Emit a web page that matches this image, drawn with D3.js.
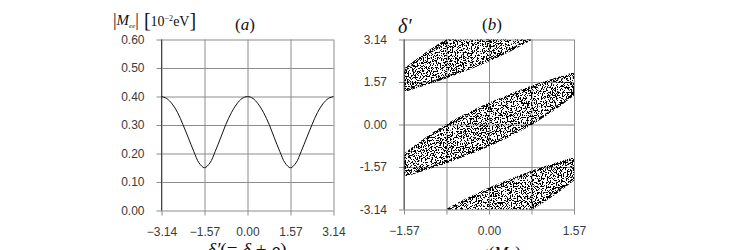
<!DOCTYPE html>
<html>
<head>
<meta charset="utf-8">
<script src="https://cdn.jsdelivr.net/npm/d3@7"></script>
<style>
  body { margin: 0; background: #fff; }
  .tick text { font-family: "Liberation Sans", Arial, sans-serif; font-size: 12px; fill: #3a3a3a; }
  .serif { font-family: "Liberation Serif", "Times New Roman", serif; fill: #111; }
</style>
</head>
<body>
<script>
// panel (a): |Mee| against delta'
const deltaA = [-3.14, -2.95, -2.75, -2.55, -2.36, -2.16, -1.96, -1.77, -1.57, -1.37, -1.18,
  -0.98, -0.79, -0.59, -0.39, -0.20, 0.00, 0.20, 0.39, 0.59, 0.79, 0.98, 1.18, 1.37, 1.57,
  1.77, 1.96, 2.16, 2.36, 2.55, 2.75, 2.95, 3.14]
const meeA = [0.400, 0.393, 0.374, 0.343, 0.302, 0.255, 0.207, 0.167, 0.150, 0.167, 0.207,
  0.255, 0.302, 0.343, 0.374, 0.393, 0.400, 0.393, 0.374, 0.343, 0.302, 0.255, 0.207, 0.167, 0.150,
  0.167, 0.207, 0.255, 0.302, 0.343, 0.374, 0.393, 0.400]
const xTicksA = [-3.14, -1.57, 0, 1.57, 3.14]
const yTicksA = [0, 0.1, 0.2, 0.3, 0.4, 0.5, 0.6]

// panel (b): allowed band of delta' against arg(Mee), repeats every pi
const argGrid = [-1.57, -1.18, -0.79, -0.39, 0.00, 0.39, 0.79, 1.18, 1.57]
const bandUpper = [-1.13, -0.54, -0.04, 0.39, 0.76, 1.09, 1.39, 1.65, 1.89]
const bandLower = [-1.90, -1.65, -1.39, -1.09, -0.76, -0.39, 0.04, 0.54, 1.13]
const bandShifts = [-3.14, 0, 3.14]
const xTicksB = [-1.57, -0.785, 0, 0.785, 1.57]
const xLabelsB = [-1.57, 0, 1.57]
const yTicksB = [-3.14, -1.57, 0, 1.57, 3.14]

const svg = d3.select('body').append('svg')
  .attr('width', 744)
  .attr('height', 250)

const defs = svg.append('defs')

// speckle texture: thresholded noise, kept inside the shape it is applied to
function stippleFilter(id, seed, freq, cut) {
  const f = defs.append('filter').attr('id', id)
    .attr('x', 0).attr('y', 0).attr('width', 1).attr('height', 1)
  f.append('feTurbulence')
    .attr('type', 'fractalNoise')
    .attr('baseFrequency', freq)
    .attr('numOctaves', 2)
    .attr('seed', seed)
    .attr('result', 'noise')
  f.append('feColorMatrix')
    .attr('in', 'noise')
    .attr('type', 'matrix')
    .attr('values', `0 0 0 0 0  0 0 0 0 0  0 0 0 0 0  -80 0 0 0 ${80 * cut}`)
    .attr('result', 'dots')
  f.append('feComposite')
    .attr('in', 'dots')
    .attr('in2', 'SourceGraphic')
    .attr('operator', 'in')
}
stippleFilter('stipple', 4, 0.8, 0.47)
stippleFilter('stippleEdge', 9, 0.9, 0.52)

function gridAxes(g, x, y, xTicks, yTicks, xFmt, yFmt) {
  const [x0, x1] = x.range()
  const [y0, y1] = y.range()

  g.append('g')
    .attr('transform', `translate(0,${y0 + 5})`)
    .call(d3.axisBottom(x).tickValues(xTicks).tickSize(-(y0 - y1 + 5)).tickPadding(11.5).tickFormat(xFmt))
    .call((a) => a.select('.domain').remove())
    .call((a) => a.selectAll('.tick line').attr('stroke', '#8c8c8c'))

  g.append('g')
    .attr('transform', `translate(${x0 - 5},0)`)
    .call(d3.axisLeft(y).tickValues(yTicks).tickSize(-(x1 - x0 + 5)).tickPadding(12).tickFormat(yFmt))
    .call((a) => a.select('.domain').remove())
    .call((a) => a.selectAll('.tick line').attr('stroke', '#8c8c8c'))
}

// ---- panel (a)
const xA = d3.scaleLinear().domain([-3.14, 3.14]).range([161.5, 333.5])
const yA = d3.scaleLinear().domain([0, 0.6]).range([210.5, 39.5])
const gA = svg.append('g')
gridAxes(gA, xA, yA, xTicksA, yTicksA, d3.format('.2f'), d3.format('.2f'))

gA.append('line')
  .attr('x1', xA(-3.14)).attr('x2', xA(-3.14))
  .attr('y1', yA(0.6)).attr('y2', yA(0))
  .attr('stroke', '#444')

gA.append('path')
  .datum(deltaA.map((d, i) => [d, meeA[i]]))
  .attr('fill', 'none')
  .attr('stroke', '#111')
  .attr('stroke-width', 1)
  .attr('d', d3.line().x((d) => xA(d[0])).y((d) => yA(d[1])).curve(d3.curveCatmullRom.alpha(0.5)))

// ---- panel (b)
const xB = d3.scaleLinear().domain([-1.57, 1.57]).range([404, 574])
const yB = d3.scaleLinear().domain([-3.14, 3.14]).range([209.5, 39.5])
const gB = svg.append('g')
gridAxes(gB, xB, yB, xTicksB, yTicksB,
  (d) => xLabelsB.includes(d) ? d3.format('.2f')(d) : '',
  (d) => d.toFixed(2))

defs.append('clipPath').attr('id', 'clipB')
  .append('rect')
  .attr('x', 404).attr('y', 39.5)
  .attr('width', 170).attr('height', 170)

const bands = gB.append('g').attr('clip-path', 'url(#clipB)')

const bandRows = bandShifts.map((s) => argGrid.map((a, i) => ({ a, lo: bandLower[i] + s, hi: bandUpper[i] + s })))

const area = d3.area()
  .x((d) => xB(d.a))
  .y0((d) => yB(d.lo))
  .y1((d) => yB(d.hi))
  .curve(d3.curveMonotoneX)

bands.selectAll('path.band')
  .data(bandRows)
  .enter()
  .append('path')
  .attr('class', 'band')
  .attr('d', area)
  .attr('fill', '#000')
  .attr('filter', 'url(#stipple)')

bands.selectAll('path.edge')
  .data(bandRows)
  .enter()
  .append('path')
  .attr('class', 'edge')
  .attr('d', area)
  .attr('fill', 'none')
  .attr('stroke', '#000')
  .attr('stroke-width', 2.4)
  .attr('filter', 'url(#stippleEdge)')

gB.append('line')
  .attr('x1', 404).attr('x2', 404)
  .attr('y1', 39.5).attr('y2', 209.5)
  .attr('stroke', '#555')

// ---- titles
const tA = svg.append('text').attr('class', 'serif').attr('x', 113).attr('y', 25)
tA.append('tspan').attr('font-size', 18).attr('dy', 1).text('|')
tA.append('tspan').attr('font-size', 15).attr('font-style', 'italic').attr('dy', -1).text('M')
tA.append('tspan').attr('font-size', 7).attr('font-style', 'italic').attr('dy', 3).text('ee')
tA.append('tspan').attr('font-size', 18).attr('dy', -2).text('|')
tA.append('tspan').attr('font-size', 20).attr('dx', 5).attr('dy', 1).text('[')
tA.append('tspan').attr('font-size', 14).attr('dy', -1).text('10')
tA.append('tspan').attr('font-size', 8).attr('dy', -5).text('−2')
tA.append('tspan').attr('font-size', 14).attr('dy', 5).text('eV')
tA.append('tspan').attr('font-size', 20).attr('dy', 1).text(']')

svg.append('text').attr('class', 'serif')
  .attr('x', 245).attr('y', 30)
  .attr('text-anchor', 'middle')
  .attr('font-size', 17)
  .html('(<tspan font-style="italic">a</tspan>)')

svg.append('text').attr('class', 'serif')
  .attr('x', 492).attr('y', 30)
  .attr('text-anchor', 'middle')
  .attr('font-size', 17)
  .html('(<tspan font-style="italic">b</tspan>)')

svg.append('text').attr('class', 'serif')
  .attr('x', 398).attr('y', 33)
  .attr('font-size', 20)
  .attr('font-style', 'italic')
  .text('δ′')

svg.append('text').attr('class', 'serif')
  .attr('x', 247).attr('y', 256)
  .attr('text-anchor', 'middle')
  .attr('font-size', 19)
  .html('<tspan font-style="italic">δ′</tspan>(= <tspan font-style="italic">δ</tspan> + <tspan font-style="italic">ρ</tspan>)')

svg.append('text').attr('class', 'serif')
  .attr('x', 494).attr('y', 258)
  .attr('text-anchor', 'middle')
  .attr('font-size', 17)
  .html('arg(<tspan font-style="italic">M</tspan><tspan font-size="8" dy="3" font-style="italic">ee</tspan><tspan dy="-3">)</tspan>')
</script>
</body>
</html>
